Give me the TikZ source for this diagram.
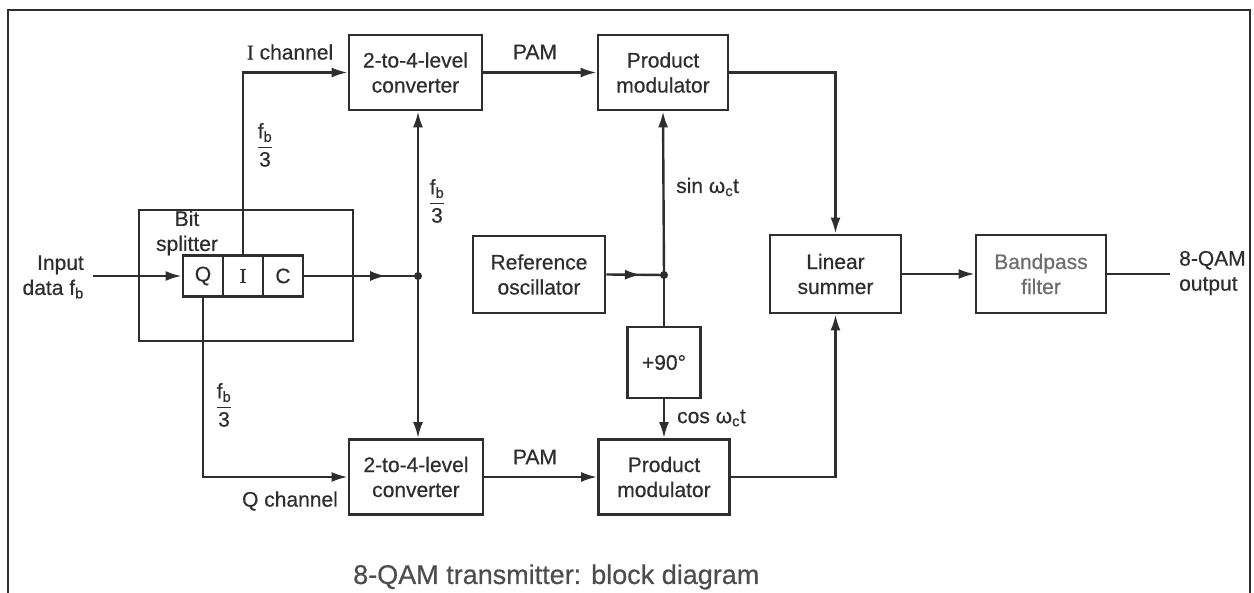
\documentclass[tikz,border=0pt]{standalone}
\usepackage{amsmath}
\usepackage{fontspec}
\setmainfont{Liberation Sans}[UprightFeatures={FakeBold=0.5}]
\newfontfamily\serifI{Liberation Serif}[UprightFeatures={FakeBold=0.5}]
\usetikzlibrary{arrows.meta,decorations.markings}
\definecolor{ink}{gray}{0.18}
\newcommand\fbthird{$\dfrac{\text{f}_{\text{b}}}{\text{3}}$}
\tikzset{
 blk/.style={draw=ink, line width=2.8pt, inner sep=0pt, align=center, font=\fontsize{21}{25}\selectfont, text=ink},
 lbl/.style={inner sep=0pt, font=\fontsize{21}{25}\selectfont, text=ink},
 wire/.style={draw=ink, line width=2.4pt},
 arr/.style={wire, -{Latex[length=16pt,width=10pt]}},
 midarr/.style={wire, postaction={decorate}, decoration={markings, mark=at position #1 with {\arrow{Latex[length=16pt,width=10pt]}}}},
 midarr/.default=0.6,
 dot/.style={circle, fill=ink, inner sep=0pt, minimum size=8pt},
}
\begin{document}
\begin{tikzpicture}[x=1pt,y=-1pt]
\useasboundingbox (0,0) rectangle (1254,593);
% frame
\draw[ink, line width=2.4pt] (8,593) -- (8,10) -- (1250,10) -- (1250,593);

% blocks
\node[blk, minimum width=133pt, minimum height=75pt] (conv1) at (415.5,72.5) {2-to-4-level\\converter};
\node[blk, minimum width=130pt, minimum height=75pt] (pm1) at (663,72.5) {Product\\modulator};
\node[blk, minimum width=134pt, minimum height=75pt] (conv2) at (416,477) {2-to-4-level\\converter};
\node[blk, minimum width=131pt, minimum height=75pt] (pm2) at (664,477) {Product\\modulator};
\node[blk, minimum width=132pt, minimum height=77pt] (osc) at (539,274.5) {Reference\\oscillator};
\node[blk, minimum width=73pt, minimum height=71pt] (ph) at (664,362.5) {+90°};
\node[blk, minimum width=131pt, minimum height=78pt] (sum) at (835.5,274) {Linear\\summer};
\node[blk, minimum width=130pt, minimum height=78pt, text=ink!70] (bpf) at (1041,274) {Bandpass\\filter};

% bit splitter
\node[blk, minimum width=214pt, minimum height=131pt] (split) at (246,275.5) {};
\node[blk, minimum width=40pt, minimum height=41pt] (Q) at (203,276) {Q};
\node[blk, minimum width=40pt, minimum height=41pt] (I) at (243,276) {\serifI I};
\node[blk, minimum width=40pt, minimum height=41pt] (C) at (283,276) {C};
\node[lbl, align=center] (bs) at (187,233) {Bit\\splitter};

% junctions and free ends
\coordinate (in) at (93,276);
\node[dot] (j1) at (418,276) {};
\node[dot] (j2) at (664,275) {};
\coordinate (out) at (1170,274);

% connectors
\draw[arr] (in) -- (Q.west);
\draw[midarr=0.72] (C.east) -- (j1.center);
\draw[arr] (j1.center) -- (j1 |- conv1.south);
\draw[arr] (j1.center) -- (j1 |- conv2.north);
\draw[arr] (I.north) |- (conv1.west);
\draw[arr] (Q.south) |- (conv2.west);
\draw[arr] (conv1.east) -- (pm1.west);
\draw[arr] (conv2.east) -- (pm2.west);
\draw[midarr=0.6] (osc.east) -- (j2.center);
\draw[arr] (j2.center) -- (pm1.south);
\draw[wire] (j2.center) -- (ph.north);
\draw[arr] (ph.south) -- (pm2.north);
\draw[arr] (pm1.east) -| (sum.north);
\draw[arr] (pm2.east) -| (sum.south);
\draw[arr] (sum.east) -- (bpf.west);
\draw[wire] (bpf.east) -- (out);

% labels
\node[lbl, align=right, anchor=east] (inl) at (84,277) {Input\\data f\textsubscript{b}};
\node[lbl] (ich) at (290,52) {\serifI I\rmfamily{} channel};
\node[lbl] (qch) at (290,501) {Q channel};
\node[lbl] (f1) at (265,145) {\fbthird};
\node[lbl] (f2) at (437,201) {\fbthird};
\node[lbl] (f3) at (224,405) {\fbthird};
\node[lbl] (pam1) at (535,52) {PAM};
\node[lbl] (pam2) at (535,457) {PAM};
\node[lbl, anchor=west] (sinl) at (676,187) {sin ω\textsubscript{c}t};
\node[lbl, anchor=west] (cosl) at (677,418) {cos ω\textsubscript{c}t};
\node[lbl, align=left, anchor=west] (outl) at (1179,273) {8-QAM\\output};
\node[inner sep=0pt, anchor=west, text=ink!85, font=\fontsize{27}{30}\selectfont] (cap) at (353,577) {8-QAM transmitter: block diagram};
\end{tikzpicture}
\end{document}
